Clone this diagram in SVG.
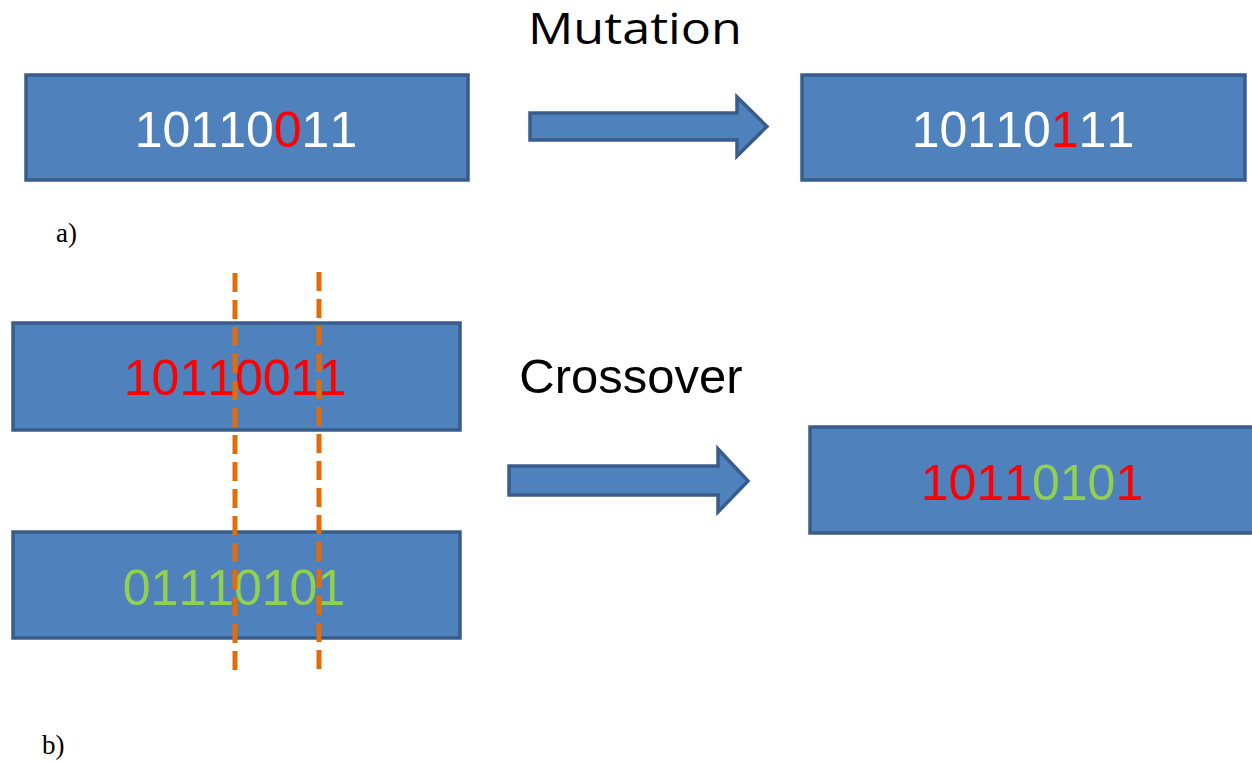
<svg xmlns="http://www.w3.org/2000/svg" width="1252" height="763" viewBox="0 0 1252 763">
<style>
.box{fill:#4F81BD;stroke:#385D8A;stroke-width:3.5}
.arrow{fill:#4F81BD;stroke:#385D8A;stroke-width:3.5;stroke-linejoin:miter}
.bits{font-family:"Liberation Sans",Arial,sans-serif;font-size:50px;text-anchor:middle;font-kerning:none}
.w{fill:#FFFFFF}.r{fill:#FF0000}.g{fill:#92D050}
.title{font-family:"Liberation Sans",Arial,sans-serif;font-size:49px;fill:#000;text-anchor:middle}
.lbl{font-family:"Liberation Serif","Times New Roman",serif;font-size:27px;fill:#000}
.cut{stroke:#E36C09;stroke-width:5;stroke-dasharray:19 8;fill:none}
</style>
<rect width="1252" height="763" fill="#FFFFFF"/>
<text class="title" x="635" y="44" style="font-family:'Open Sans','Liberation Sans',sans-serif;font-size:43px" textLength="214" lengthAdjust="spacingAndGlyphs">Mutation</text>
<g id="mut-src">
<rect class="box" x="26" y="75" width="442" height="105"/>
<text class="bits w" x="246" y="147">10110<tspan class="r">0</tspan>11</text>
</g>
<g id="mut-dst">
<rect class="box" x="802" y="75" width="443" height="105"/>
<text class="bits w" x="1023" y="147">10110<tspan class="r">1</tspan>11</text>
</g>
<text class="lbl" x="56" y="242">a)</text>
<text class="title" x="631" y="393">Crossover</text>
<g id="parent1">
<rect class="box" x="13" y="323" width="447" height="107"/>
<text class="bits r" x="235" y="395">10110011</text>
</g>
<g id="parent2">
<rect class="box" x="13" y="532" width="447" height="106"/>
<text class="bits g" x="234" y="605">01110101</text>
</g>
<g id="child">
<rect class="box" x="810" y="427" width="460" height="106"/>
<text class="bits r" x="1032" y="500">1011<tspan class="g">010</tspan>1</text>
</g>
<g id="connectors">
<path class="arrow" d="M530,113 L737,113 L737,97 L767,126.5 L737,156 L737,140 L530,140 Z"/>
<path class="arrow" d="M509,466 L718,466 L718,449 L748,481 L718,512 L718,495 L509,495 Z"/>
<line class="cut" x1="235" y1="273" x2="235" y2="677"/>
<line class="cut" x1="319" y1="272" x2="319" y2="676"/>
</g>
<text class="lbl" x="42" y="754">b)</text>
</svg>
